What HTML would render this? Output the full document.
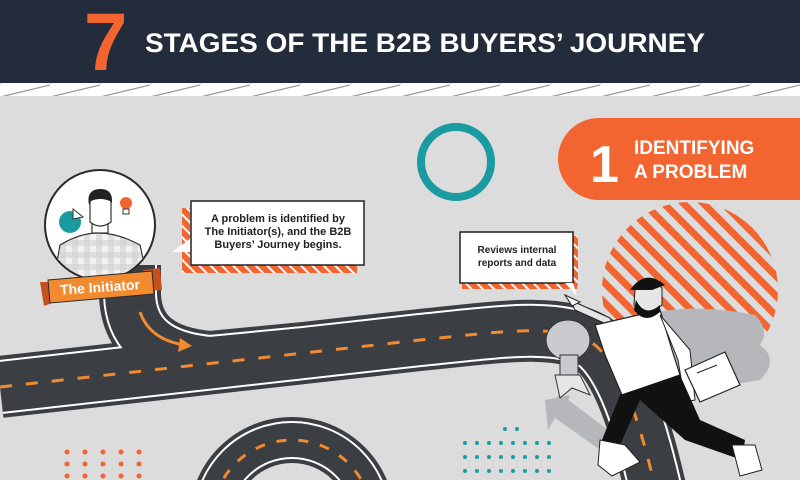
<!DOCTYPE html>
<html><head><meta charset="utf-8"><style>
html,body{margin:0;padding:0;width:800px;height:480px;overflow:hidden;background:#dcdcdc}
svg{display:block}
text{font-family:"Liberation Sans",sans-serif}
</style></head><body>
<svg width="800" height="480" viewBox="0 0 800 480" xmlns="http://www.w3.org/2000/svg">
<defs>
<pattern id="hatch" width="8" height="8" patternUnits="userSpaceOnUse" patternTransform="rotate(-45)">
<rect width="8" height="8" fill="#f26430"/><rect width="2" height="8" fill="#fff"/></pattern>
<pattern id="bighatch" width="14" height="14" patternUnits="userSpaceOnUse" patternTransform="rotate(-45)">
<rect width="7" height="14" fill="#f26430"/></pattern>
<pattern id="topband" width="50" height="14" patternUnits="userSpaceOnUse">
<rect width="50" height="14" fill="#fff"/><line x1="0" y1="13" x2="50" y2="1" stroke="#9a9a9a" stroke-width="1.2"/></pattern>
<pattern id="plaid" width="12" height="12" patternUnits="userSpaceOnUse">
<rect width="12" height="12" fill="#f2f2f2"/><rect width="6" height="12" fill="#d0d0d0" opacity=".6"/><rect width="12" height="6" fill="#d0d0d0" opacity=".6"/></pattern>
<clipPath id="cc"><circle cx="100" cy="225" r="54"/></clipPath>
<clipPath id="frame"><rect x="0" y="0" width="800" height="480"/></clipPath>
</defs>
<g clip-path="url(#frame)">
<rect x="0" y="0" width="800" height="83" fill="#232c3b"/>
<text x="0" y="0" font-size="78" font-weight="bold" fill="#f26430" transform="translate(84 70) scale(1 1.05)">7</text>
<text x="145" y="52" font-size="27" font-weight="bold" fill="#fff" textLength="560" lengthAdjust="spacingAndGlyphs">STAGES OF THE B2B BUYERS’ JOURNEY</text>
<rect x="0" y="83" width="800" height="13" fill="url(#topband)"/>

<circle cx="456" cy="162" r="35" fill="none" stroke="#1a9ba1" stroke-width="8"/>
<rect x="558" y="118" width="242" height="82" rx="41" fill="#f26430"/>
<rect x="700" y="118" width="100" height="82" fill="#f26430"/>
<text x="590" y="182" font-size="52" font-weight="bold" fill="#fff">1</text>
<text x="634" y="154" font-size="19" font-weight="bold" fill="#fff">IDENTIFYING</text>
<text x="634" y="178" font-size="19" font-weight="bold" fill="#fff">A PROBLEM</text>

<circle cx="690" cy="290" r="88" fill="url(#bighatch)"/>
<path d="M630 320 Q680 300 755 315 Q770 330 760 345 Q780 360 760 380 L700 390 Q660 400 640 370 Z" fill="#b5b7bb"/>
<path d="M545 400 L570 395 L565 410 L660 478 L640 478 L555 418 L548 430 Z" fill="#b5b7bb"/>
<path d="M555 400 L648 470" stroke="#b5b7bb" stroke-width="16"/>

<g fill="#f26430">
<circle cx="67" cy="452" r="2.5"/><circle cx="85" cy="452" r="2.5"/><circle cx="103" cy="452" r="2.5"/><circle cx="121" cy="452" r="2.5"/><circle cx="139" cy="452" r="2.5"/>
<circle cx="67" cy="464" r="2.5"/><circle cx="85" cy="464" r="2.5"/><circle cx="103" cy="464" r="2.5"/><circle cx="121" cy="464" r="2.5"/><circle cx="139" cy="464" r="2.5"/>
<circle cx="67" cy="476" r="2.5"/><circle cx="85" cy="476" r="2.5"/><circle cx="103" cy="476" r="2.5"/><circle cx="121" cy="476" r="2.5"/><circle cx="139" cy="476" r="2.5"/>
</g>
<g fill="#1a9ba1">
<circle cx="465" cy="443" r="2"/><circle cx="477" cy="443" r="2"/><circle cx="489" cy="443" r="2"/><circle cx="501" cy="443" r="2"/><circle cx="513" cy="443" r="2"/><circle cx="525" cy="443" r="2"/><circle cx="537" cy="443" r="2"/><circle cx="549" cy="443" r="2"/>
<circle cx="465" cy="457" r="2"/><circle cx="477" cy="457" r="2"/><circle cx="489" cy="457" r="2"/><circle cx="501" cy="457" r="2"/><circle cx="513" cy="457" r="2"/><circle cx="525" cy="457" r="2"/><circle cx="537" cy="457" r="2"/><circle cx="549" cy="457" r="2"/>
<circle cx="465" cy="471" r="2"/><circle cx="477" cy="471" r="2"/><circle cx="489" cy="471" r="2"/><circle cx="501" cy="471" r="2"/><circle cx="513" cy="471" r="2"/><circle cx="525" cy="471" r="2"/><circle cx="537" cy="471" r="2"/><circle cx="549" cy="471" r="2"/>
<circle cx="505" cy="429" r="2"/><circle cx="517" cy="429" r="2"/>
</g>

<g fill="none" stroke-linecap="butt">
<path d="M0 387 L420 340 C500 332 560 322 595 345 C622 368 640 420 658 500" stroke="#3b3e43" stroke-width="62"/>
<path d="M130 265 L130 295 Q132 355 210 362 L300 353.4" stroke="#3b3e43" stroke-width="62"/>
<path d="M212 520 A80 80 0 0 1 372 520" stroke="#3b3e43" stroke-width="46"/>
<path d="M0 387 L420 340 C500 332 560 322 595 345 C622 368 640 420 658 500" stroke="#fff" stroke-width="54"/>
<path d="M130 265 L130 295 Q132 355 210 362 L300 353.4" stroke="#fff" stroke-width="54"/>
<path d="M212 520 A80 80 0 0 1 372 520" stroke="#fff" stroke-width="38"/>
<path d="M130 265 L130 295 Q132 355 210 362 L300 353.4" stroke="#3b3e43" stroke-width="50"/>
<path d="M0 387 L420 340 C500 332 560 322 595 345 C622 368 640 420 658 500" stroke="#3b3e43" stroke-width="50"/>
<path d="M212 520 A80 80 0 0 1 372 520" stroke="#3b3e43" stroke-width="34"/>
<path d="M0 387 L420 340 C500 332 560 322 595 345 C622 368 640 420 658 500" stroke="#f28a30" stroke-width="3" stroke-dasharray="12 14"/>
<path d="M212 520 A80 80 0 0 1 372 520" stroke="#f28a30" stroke-width="3" stroke-dasharray="10 12"/>
<path d="M140 312 Q150 340 185 345" stroke="#f28a30" stroke-width="3"/>
</g>
<path d="M180 338 L192 346 L178 352 Z" fill="#f28a30"/>

<circle cx="100" cy="225" r="55" fill="#fff" stroke="#2a2a2a" stroke-width="2"/>
<g clip-path="url(#cc)">
<path d="M52 290 L60 245 Q80 233 98 233 Q118 233 140 245 L150 290 Z" fill="url(#plaid)" stroke="#333" stroke-width="1.2"/>
<rect x="92" y="217" width="16" height="16" fill="#fff" stroke="#333" stroke-width="1.2"/>
<path d="M90 222 L90 200 Q100 193 111 200 L111 222 Q100 230 90 222 Z" fill="#fff" stroke="#333" stroke-width="1.2"/>
<path d="M89 205 Q86 190 99 189 Q113 188 112 203 L110 201 Q100 197 91 201 Z" fill="#222"/>
</g>
<circle cx="70" cy="222" r="11" fill="#1a9ba1"/>
<path d="M73 209 L83 217 L73 219 Z" fill="#fff" stroke="#333"/>
<circle cx="126" cy="203" r="6" fill="#f26430"/>
<rect x="123" y="209" width="6" height="5" fill="#fff" stroke="#333"/>

<path d="M40 282 L52 282 L52 303 L44 306 Z" fill="#c4501f"/>
<path d="M143 270 L160 268 L162 290 L150 291 Z" fill="#c4501f"/>
<path d="M48 280 L152 271 L154 294 L50 303 Z" fill="#f28a30" stroke="#2a2a2a" stroke-width="1"/>
<text x="100" y="292" font-size="14" font-weight="bold" fill="#fff" text-anchor="middle" transform="rotate(-4 100 288)">The Initiator</text>

<rect x="182" y="208" width="8" height="65" fill="url(#hatch)"/>
<rect x="182" y="265" width="175" height="8" fill="url(#hatch)"/>
<path d="M172 252 L191 238 L191 252 Z" fill="#fff"/>
<rect x="191" y="201" width="173" height="64" fill="#fff" stroke="#222" stroke-width="1.5"/>
<text x="278" y="222" font-size="11" font-weight="bold" fill="#222" text-anchor="middle">A problem is identified by</text>
<text x="278" y="235" font-size="11" font-weight="bold" fill="#222" text-anchor="middle">The Initiator(s), and the B2B</text>
<text x="278" y="248" font-size="11" font-weight="bold" fill="#222" text-anchor="middle">Buyers’ Journey begins.</text>

<rect x="462" y="282" width="115" height="7" fill="url(#hatch)"/>
<rect x="572" y="236" width="6" height="50" fill="url(#hatch)"/>
<rect x="460" y="232" width="113" height="51" fill="#fff" stroke="#222" stroke-width="1.5"/>
<path d="M565 283 L577 296 L573 283 Z" fill="#fff"/>
<text x="517" y="253" font-size="10" font-weight="bold" fill="#222" text-anchor="middle">Reviews internal</text>
<text x="517" y="266" font-size="10" font-weight="bold" fill="#222" text-anchor="middle">reports and data</text>

<ellipse cx="568" cy="340" rx="22" ry="20" fill="#c9cace" stroke="#333" stroke-width="1"/>
<rect x="560" y="355" width="18" height="22" fill="#c9cace" stroke="#333"/>
<path d="M555 375 L580 375 L590 395 L572 388 L560 398 Z" fill="#e6e6e6" stroke="#333"/>

<path d="M570 300 L610 318 L615 328 L575 310 Z" fill="#e6e6e6" stroke="#222"/>
<path d="M565 295 L580 302 L572 306 Z" fill="#fff" stroke="#222"/>
<path d="M595 325 L660 310 L672 350 L680 375 L622 395 L605 355 Z" fill="#fff" stroke="#222" stroke-width="1.2"/>
<path d="M660 315 L690 350 L695 400 L685 402 L678 360 Z" fill="#fff" stroke="#222"/>
<path d="M620 395 L680 375 L700 420 L745 440 L742 460 L685 440 L640 400 L620 445 L600 445 Z" fill="#111"/>
<path d="M600 440 L625 445 L640 462 L612 476 L598 465 Z" fill="#fff" stroke="#222"/>
<path d="M732 445 L755 445 L762 470 L740 476 Z" fill="#fff" stroke="#222"/>
<path d="M635 290 Q650 275 662 288 L662 305 Q648 318 634 305 Z" fill="#e6e6e6" stroke="#222"/>
<path d="M630 290 Q645 268 665 285 L652 290 Z" fill="#111"/>
<path d="M636 300 Q645 318 660 305 L660 312 Q645 325 634 310 Z" fill="#111"/>
<path d="M685 370 L725 352 L740 385 L700 402 Z" fill="#fff" stroke="#222" stroke-width="1.2"/>
<path d="M697 373 L717 365" stroke="#222"/>
</g>
</svg>
</body></html>
